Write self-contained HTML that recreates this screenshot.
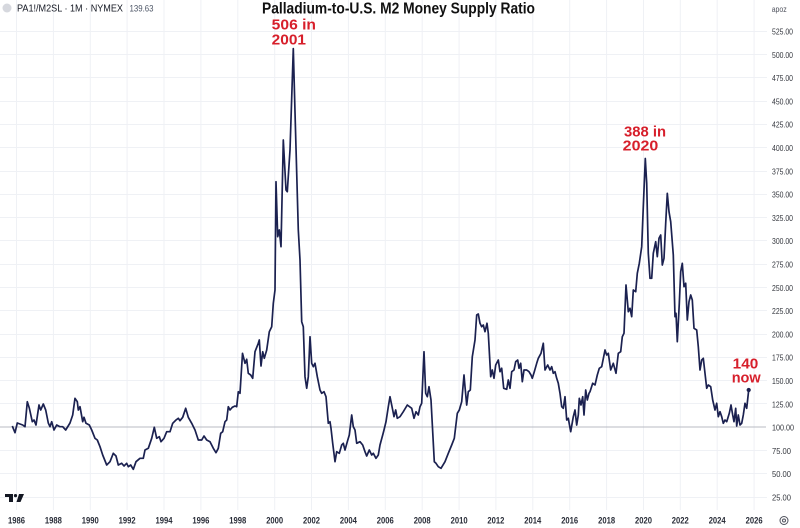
<!DOCTYPE html>
<html>
<head>
<meta charset="utf-8">
<style>
html,body{margin:0;padding:0;background:#ffffff;}
svg{display:block;}
text{font-family:"Liberation Sans", sans-serif;}
</style>
</head>
<body>
<svg width="800" height="528" viewBox="0 0 800 528" xmlns="http://www.w3.org/2000/svg">
<rect x="0" y="0" width="800" height="528" fill="#ffffff"/>
<!-- grid -->
<g stroke="#eff1f5" stroke-width="1">
<line x1="0" y1="31.5" x2="767" y2="31.5"/>
<line x1="0" y1="54.5" x2="767" y2="54.5"/>
<line x1="0" y1="77.5" x2="767" y2="77.5"/>
<line x1="0" y1="101.5" x2="767" y2="101.5"/>
<line x1="0" y1="124.5" x2="767" y2="124.5"/>
<line x1="0" y1="147.5" x2="767" y2="147.5"/>
<line x1="0" y1="171.5" x2="767" y2="171.5"/>
<line x1="0" y1="194.5" x2="767" y2="194.5"/>
<line x1="0" y1="217.5" x2="767" y2="217.5"/>
<line x1="0" y1="240.5" x2="767" y2="240.5"/>
<line x1="0" y1="264.5" x2="767" y2="264.5"/>
<line x1="0" y1="287.5" x2="767" y2="287.5"/>
<line x1="0" y1="310.5" x2="767" y2="310.5"/>
<line x1="0" y1="334.5" x2="767" y2="334.5"/>
<line x1="0" y1="357.5" x2="767" y2="357.5"/>
<line x1="0" y1="380.5" x2="767" y2="380.5"/>
<line x1="0" y1="403.5" x2="767" y2="403.5"/>
<line x1="0" y1="450.5" x2="767" y2="450.5"/>
<line x1="0" y1="473.5" x2="767" y2="473.5"/>
<line x1="0" y1="497.5" x2="767" y2="497.5"/>
<line x1="16.5" y1="0" x2="16.5" y2="510"/>
<line x1="53.4" y1="0" x2="53.4" y2="510"/>
<line x1="90.3" y1="0" x2="90.3" y2="510"/>
<line x1="127.1" y1="0" x2="127.1" y2="510"/>
<line x1="164" y1="0" x2="164" y2="510"/>
<line x1="200.9" y1="0" x2="200.9" y2="510"/>
<line x1="237.8" y1="0" x2="237.8" y2="510"/>
<line x1="274.7" y1="0" x2="274.7" y2="510"/>
<line x1="311.5" y1="0" x2="311.5" y2="510"/>
<line x1="348.4" y1="0" x2="348.4" y2="510"/>
<line x1="385.3" y1="0" x2="385.3" y2="510"/>
<line x1="422.2" y1="0" x2="422.2" y2="510"/>
<line x1="459.1" y1="0" x2="459.1" y2="510"/>
<line x1="495.9" y1="0" x2="495.9" y2="510"/>
<line x1="532.8" y1="0" x2="532.8" y2="510"/>
<line x1="569.7" y1="0" x2="569.7" y2="510"/>
<line x1="606.6" y1="0" x2="606.6" y2="510"/>
<line x1="643.5" y1="0" x2="643.5" y2="510"/>
<line x1="680.3" y1="0" x2="680.3" y2="510"/>
<line x1="717.2" y1="0" x2="717.2" y2="510"/>
<line x1="754.1" y1="0" x2="754.1" y2="510"/>
</g>
<!-- 100 baseline -->
<line x1="0" y1="427" x2="766" y2="427" stroke="#b8bbc3" stroke-width="1"/>

<!-- series -->
<polyline fill="none" stroke="#1b2150" stroke-width="1.7" stroke-linejoin="round" points="
12.3,426 15,432.7 17.3,423 22.7,425 25,426.7 27.3,401.7 29.3,408 32.3,421.7 34,420 36,425 39,405 40.7,410 43.3,404 45.7,410 48.3,423 50,426.7 51.7,421.7 54,430 56.7,425 60,426.7 62.7,426.7 65.7,430 70,423 72.7,415 75,398.3 77.3,401.7 78.3,410 80,406.7 82.7,421.7 84,417.3 86,423.3 89.3,425 91.7,430 95,438.3 97.3,440 100,446.7 102.7,455 106.7,465 110,461.7 113.3,453.3 116,456 118.3,465 121.7,463.3 124,466 126.7,463.3 128.3,466.7 130.7,465 133.3,469.3 136,461.7 140,458.3 143.3,458.3 145,450 148.3,448.3 151.7,438.3 154.3,427.3 156.7,438.3 159.3,436.7 161,441.7 164,438.3 166.7,431.7 170,431.7 172.7,423.3 176,420 178.3,418.3 180,420.7 182.7,417.3 185.7,408.3 188.3,417.3 191.7,423.3 195,430 198.3,440 201.7,440 204,436 206.7,440 210,441.7 213.3,448.3 216,452.7 218.3,448.3 220.7,433.3 222.7,431.7 225,421.7 226.7,420 228.3,406.7 230,410 232.3,407.3 235,406 236.7,406.7 238.3,391.7 240,393.3 242.5,353.3 245,363.3 246.7,359.3 248.3,373.3 250.7,375 252.7,378.3 255,351.7 258.3,343.3 259.3,340 261,366 262.7,351.7 264.3,358.3 266.7,350 269.3,331.7 271.7,326.7 273.3,303.3 275,290 276,181.7 277.7,236.7 279.3,230 281,246.7 283.3,140 286,190 287.3,191.7 290,150 293.3,48.6 295,112 298.3,230 300,260 301.7,321.7 303.3,326.7 305,376.7 306.7,388.3 308.3,376.7 310,336.7 311.7,363.3 313.3,366.7 315,363.3 317.3,376.7 320,390 321.7,393.3 324,391.7 326,396.7 328.3,423.3 330,421.7 331,428.3 332.7,443.3 335,461.7 336.7,451.7 339.3,453.3 341.7,445 343.3,443.3 345,450 347.3,441.7 349.3,435 351.7,415 353.3,426.7 355,430 356.7,443.3 360,441.7 362.7,445 365,451.7 366.7,456 369.3,450 371.7,455 373.3,453.3 376,458.3 378.3,455 380,445 382.7,435 384,430 386,421.7 388.3,406.7 390,396.7 392.7,410 394,416.7 395.7,410 397.3,418.3 400,416.7 403.3,411.7 407.3,405 411.7,408.3 414,418.3 416,411.7 418.3,415 420,406.7 421.7,403.3 424,351.7 425.7,393.3 427.3,396.7 429,386.7 431,400 434.3,461.7 436,463.3 438.3,466.7 441,468.3 445,461.7 448.3,453.3 451.7,445 454.3,438.3 457.3,413.3 459.3,410 461.7,401.7 464,375 465,386.7 466.7,405 468.3,391.7 470.3,390 472.3,356.7 475,340 476.7,315 478.3,314 480,323.3 481.7,326.7 483.3,325 485,331.7 487,323.3 488.3,333.3 490.7,376.7 492.3,370 494,378.3 495.7,365 498.3,360 500,371.7 501.7,368.3 503.7,388.3 506.7,389.3 508.3,380 510,388.3 511.7,371.7 514,370 515.7,361.7 517.7,360 519,368.3 520.7,363.3 522.3,381.7 524,370 526.7,370 529,371.7 531,375 532.3,378.3 534.3,371.7 536.7,363.3 538.3,358.3 541,353.3 543.3,343.3 545,370 547.7,365 550,370 551.7,366.7 553.3,373.3 555,371.7 556.7,378.3 558.3,383.3 560,393.3 561.7,406.7 563.3,408.3 565,396.7 566.7,420 568.3,418.3 570.7,431.7 573.3,416.7 575,410 576.7,425 578.3,415 579.3,398.3 581,405 582.7,396.7 584,415 585.7,390 587.3,400 589,393.3 590,391.7 592.7,383.3 595,385 597.3,375 599.3,368.3 601.7,366.7 605,350 606.7,355 608.3,353.3 610.7,370 613.3,363.3 616,373.3 618.3,353.3 620.7,351.7 622.3,336.7 624,333.3 626,285 628.3,311.7 630,308.3 631.7,316.7 633.3,290 635.7,291.7 637.3,273.3 639.3,263.3 641.7,246.7 643.3,206.7 645.3,158.5 646.7,183.3 648.3,253.3 650,278.3 651.7,278.3 653.3,253.3 655.7,241.7 657.3,256.7 659,238.3 660.7,235 662.3,265 664,258.3 665.7,223.3 667.3,193.3 669,211.7 670.7,221.7 673.3,255 675,316.7 676,313.3 677.3,341.7 679.3,303.3 680.7,271.7 682.3,263.3 684,286.7 685.7,283.3 687.3,320 689,301.7 690.7,295 692.3,300 694,328.3 696.7,330 698.3,346.7 700,370 701.7,360 703.3,358.3 705,373.3 706.7,388.3 708.3,385 710.7,386.7 712.7,400 715,410 716.7,403.3 718.3,416.7 720,411.7 721.7,416.7 723.3,423.3 725,420 726.7,421.7 729.3,413.3 731,405 732.7,415 734,421.7 735.7,408.3 736.7,426 738.3,415 740,425 741.7,423.3 743.3,415 745,403.3 746.7,408.3 748.7,390"/>
<circle cx="748.7" cy="390" r="2.1" fill="#1b2150"/>

<!-- header -->
<circle cx="7" cy="8" r="4.5" fill="#d6d8de"/>
<text x="17" y="11.5" font-size="10" fill="#131722" textLength="106" lengthAdjust="spacingAndGlyphs">PA1!/M2SL · 1M · NYMEX</text>
<text x="129.5" y="11.5" font-size="9" fill="#4c5566" textLength="24" lengthAdjust="spacingAndGlyphs">139.63</text>

<!-- title -->
<text x="262" y="13.5" font-size="15.5" font-weight="bold" fill="#111111" textLength="273" lengthAdjust="spacingAndGlyphs">Palladium-to-U.S. M2 Money Supply Ratio</text>

<!-- annotations -->
<g font-weight="bold" fill="#d71f2b" font-size="15">
<text x="271.7" y="29.3" textLength="44.3" lengthAdjust="spacingAndGlyphs">506 in</text>
<text x="271.7" y="44.3" textLength="34.3" lengthAdjust="spacingAndGlyphs">2001</text>
<text x="624" y="136.7" textLength="42" lengthAdjust="spacingAndGlyphs">388 in</text>
<text x="622.7" y="150.3" textLength="35.6" lengthAdjust="spacingAndGlyphs">2020</text>
<text x="732.7" y="368.5" textLength="25.6" lengthAdjust="spacingAndGlyphs">140</text>
<text x="731.7" y="382.7" textLength="29" lengthAdjust="spacingAndGlyphs">now</text>
</g>

<!-- right axis -->
<text x="771.7" y="12" font-size="8" fill="#50535e" textLength="15" lengthAdjust="spacingAndGlyphs">apoz</text>
<g font-size="8.5" fill="#33363d">
<text x="772" y="34.5" textLength="21" lengthAdjust="spacingAndGlyphs">525.00</text>
<text x="772" y="57.8" textLength="21" lengthAdjust="spacingAndGlyphs">500.00</text>
<text x="772" y="81.1" textLength="21" lengthAdjust="spacingAndGlyphs">475.00</text>
<text x="772" y="104.4" textLength="21" lengthAdjust="spacingAndGlyphs">450.00</text>
<text x="772" y="127.7" textLength="21" lengthAdjust="spacingAndGlyphs">425.00</text>
<text x="772" y="151" textLength="21" lengthAdjust="spacingAndGlyphs">400.00</text>
<text x="772" y="174.3" textLength="21" lengthAdjust="spacingAndGlyphs">375.00</text>
<text x="772" y="197.6" textLength="21" lengthAdjust="spacingAndGlyphs">350.00</text>
<text x="772" y="220.9" textLength="21" lengthAdjust="spacingAndGlyphs">325.00</text>
<text x="772" y="244.2" textLength="21" lengthAdjust="spacingAndGlyphs">300.00</text>
<text x="772" y="267.5" textLength="21" lengthAdjust="spacingAndGlyphs">275.00</text>
<text x="772" y="290.8" textLength="21" lengthAdjust="spacingAndGlyphs">250.00</text>
<text x="772" y="314.1" textLength="21" lengthAdjust="spacingAndGlyphs">225.00</text>
<text x="772" y="337.4" textLength="21" lengthAdjust="spacingAndGlyphs">200.00</text>
<text x="772" y="360.7" textLength="21" lengthAdjust="spacingAndGlyphs">175.00</text>
<text x="772" y="384" textLength="21" lengthAdjust="spacingAndGlyphs">150.00</text>
<text x="772" y="407.3" textLength="21" lengthAdjust="spacingAndGlyphs">125.00</text>
<text x="772" y="430.6" textLength="22" lengthAdjust="spacingAndGlyphs">100.00</text>
<text x="772" y="453.9" textLength="19" lengthAdjust="spacingAndGlyphs">75.00</text>
<text x="772" y="477.2" textLength="19" lengthAdjust="spacingAndGlyphs">50.00</text>
<text x="772" y="500.5" textLength="19" lengthAdjust="spacingAndGlyphs">25.00</text>
</g>

<!-- bottom axis -->
<g font-size="9" font-weight="bold" fill="#2a2e39" text-anchor="middle">
<text x="16.5" y="523.3" textLength="17" lengthAdjust="spacingAndGlyphs">1986</text>
<text x="53.4" y="523.3" textLength="17" lengthAdjust="spacingAndGlyphs">1988</text>
<text x="90.3" y="523.3" textLength="17" lengthAdjust="spacingAndGlyphs">1990</text>
<text x="127.1" y="523.3" textLength="17" lengthAdjust="spacingAndGlyphs">1992</text>
<text x="164" y="523.3" textLength="17" lengthAdjust="spacingAndGlyphs">1994</text>
<text x="200.9" y="523.3" textLength="17" lengthAdjust="spacingAndGlyphs">1996</text>
<text x="237.8" y="523.3" textLength="17" lengthAdjust="spacingAndGlyphs">1998</text>
<text x="274.7" y="523.3" textLength="17" lengthAdjust="spacingAndGlyphs">2000</text>
<text x="311.5" y="523.3" textLength="17" lengthAdjust="spacingAndGlyphs">2002</text>
<text x="348.4" y="523.3" textLength="17" lengthAdjust="spacingAndGlyphs">2004</text>
<text x="385.3" y="523.3" textLength="17" lengthAdjust="spacingAndGlyphs">2006</text>
<text x="422.2" y="523.3" textLength="17" lengthAdjust="spacingAndGlyphs">2008</text>
<text x="459.1" y="523.3" textLength="17" lengthAdjust="spacingAndGlyphs">2010</text>
<text x="495.9" y="523.3" textLength="17" lengthAdjust="spacingAndGlyphs">2012</text>
<text x="532.8" y="523.3" textLength="17" lengthAdjust="spacingAndGlyphs">2014</text>
<text x="569.7" y="523.3" textLength="17" lengthAdjust="spacingAndGlyphs">2016</text>
<text x="606.6" y="523.3" textLength="17" lengthAdjust="spacingAndGlyphs">2018</text>
<text x="643.5" y="523.3" textLength="17" lengthAdjust="spacingAndGlyphs">2020</text>
<text x="680.3" y="523.3" textLength="17" lengthAdjust="spacingAndGlyphs">2022</text>
<text x="717.2" y="523.3" textLength="17" lengthAdjust="spacingAndGlyphs">2024</text>
<text x="754.1" y="523.3" textLength="17" lengthAdjust="spacingAndGlyphs">2026</text>
</g>

<!-- settings icon -->
<circle cx="784" cy="520.5" r="4" fill="none" stroke="#50535e" stroke-width="1"/>
<circle cx="784" cy="520.5" r="1.5" fill="none" stroke="#50535e" stroke-width="1"/>

<!-- TV logo -->
<g fill="#131722">
<rect x="5" y="494" width="8" height="3"/>
<rect x="9" y="494" width="4" height="8"/>
<circle cx="15.5" cy="495.6" r="1.6"/>
<polygon points="19,494 24,494 20.5,502 16.5,502"/>
</g>
</svg>
</body>
</html>
